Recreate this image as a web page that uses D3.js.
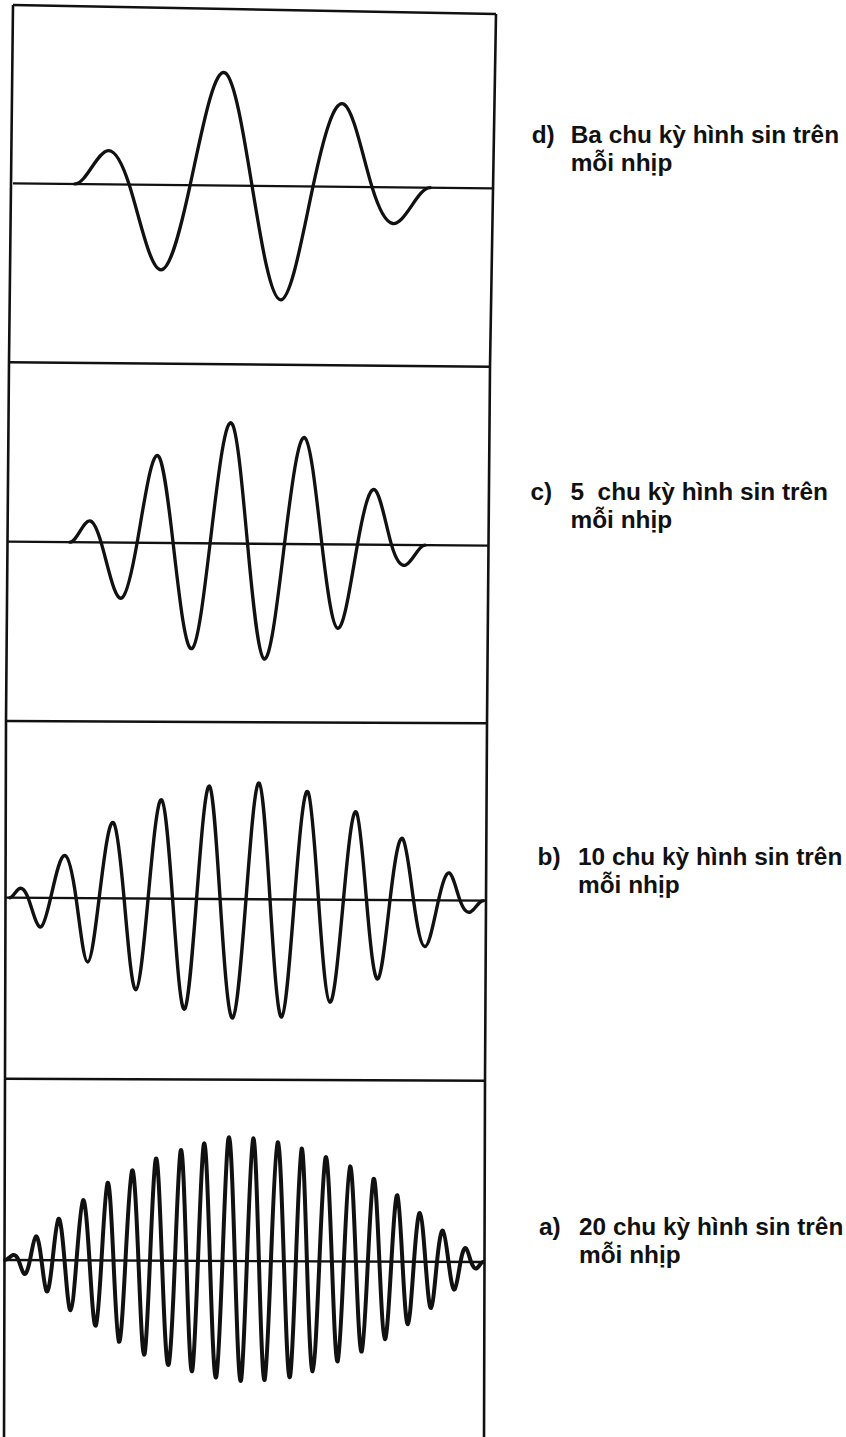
<!DOCTYPE html>
<html>
<head>
<meta charset="utf-8">
<script src="https://cdn.jsdelivr.net/npm/d3@7"></script>
<style>
  html, body { margin: 0; padding: 0; background: #fff; }
  svg { display: block; }
  .label { font-family: "Liberation Sans", Arial, sans-serif; font-weight: bold; font-size: 24.4px; fill: #111; white-space: pre; }
</style>
</head>
<body>
<svg id="chart" width="846" height="1437"></svg>
<script>
// Each waveform is given by its zero crossings and extrema:
// position along the span (percent) and relative amplitude (-1..1).

// d) three sine cycles per span
const posD = [12.9, 19.8, 24.2, 31.0, 36.9, 44.0, 49.8, 56.0, 62.5, 68.8, 74.8, 79.2, 86.9];
const ampD = [0, 0.27, 0, -0.68, 0, 0.90, 0, -0.91, 0, 0.66, 0, -0.29, 0];

// c) five sine cycles per span
const posC = [12.9, 17.2, 19.4, 23.9, 26.9, 31.3, 34.4, 38.6, 42.1, 46.6, 49.9,
              53.5, 57.6, 61.7, 65.4, 68.8, 72.8, 76.3, 79.9, 82.9, 86.9];
const ampC = [0, 0.17, 0, -0.44, 0, 0.69, 0, -0.84, 0, 0.95, 0,
              -0.92, 0, 0.85, 0, -0.67, 0, 0.44, 0, -0.16, 0];

// b) ten sine cycles per span
const posB = [0.8, 2.6, 4.6, 7.4, 9.3, 12.3, 14.6, 17.1, 19.4, 22.4, 24.6,
              27.2, 29.6, 32.3, 34.7, 37.4, 39.7, 42.3, 44.6, 47.4, 50.0,
              52.6, 55.0, 57.6, 60.1, 62.8, 65.1, 67.6, 70.3, 72.9, 75.1,
              77.6, 80.0, 82.6, 84.9, 87.3, 90.1, 92.3, 94.6, 96.8, 99.4];
const ampB = [0, 0.07, 0, -0.23, 0, 0.34, 0, -0.51, 0, 0.60, 0,
              -0.73, 0, 0.79, 0, -0.88, 0, 0.90, 0, -0.95, 0,
              0.93, 0, -0.94, 0, 0.86, 0, -0.82, 0, 0.70, 0,
              -0.63, 0, 0.49, 0, -0.37, 0, 0.22, 0, -0.09, 0];

// a) twenty sine cycles per span
const posA = [0.0,
              1.7, 2.8, 4.0, 5.2, 6.4, 7.6, 8.7, 9.9, 11.1, 12.4,
              13.7, 14.9, 16.2, 17.6, 19.0, 20.1, 21.3, 22.6, 23.8, 25.1,
              26.4, 27.8, 29.2, 30.2, 31.3, 32.7, 34.2, 35.4, 36.5, 37.8,
              39.1, 40.2, 41.3, 42.7, 44.1, 45.3, 46.4, 47.9, 49.3, 50.4,
              51.6, 52.9, 54.2, 55.4, 56.7, 58.1, 59.5, 60.6, 61.7, 62.9,
              64.2, 65.5, 66.7, 68.1, 69.4, 70.6, 71.8, 73.1, 74.4, 75.6,
              76.7, 78.0, 79.2, 80.5, 81.7, 82.8, 84.0, 85.2, 86.4, 87.6,
              88.8, 90.0, 91.2, 92.4, 93.7, 94.9, 96.0, 97.1, 98.3, 99.6];
const ampA = [0,
              0.04, 0, -0.11, 0, 0.19, 0, -0.25, 0, 0.33, 0,
              -0.40, 0, 0.48, 0, -0.52, 0, 0.62, 0, -0.65, 0,
              0.72, 0, -0.74, 0, 0.81, 0, -0.83, 0, 0.88, 0,
              -0.88, 0, 0.93, 0, -0.93, 0, 0.97, 0, -0.95, 0,
              0.98, 0, -0.95, 0, 0.95, 0, -0.92, 0, 0.90, 0,
              -0.88, 0, 0.83, 0, -0.80, 0, 0.76, 0, -0.72, 0,
              0.66, 0, -0.62, 0, 0.53, 0, -0.50, 0, 0.39, 0,
              -0.37, 0, 0.25, 0, -0.22, 0, 0.11, 0, -0.05, 0];

const tags  = ["d)", "c)", "b)", "a)"];
const texts = ["Ba chu kỳ hình sin trên", "5  chu kỳ hình sin trên",
               "10 chu kỳ hình sin trên", "20 chu kỳ hình sin trên"];
const secondLine = "mỗi nhịp";

// ---- layout (page geometry; the frame is slightly skewed) ----
const frameLeft  = [[13, 5], [9, 362.3], [6, 721], [5, 1078.7], [4, 1440]];
const frameRight = [[496, 14], [490, 366.7], [487, 723.3], [485, 1080.7], [484, 1440]];
const baselines = [
  [[13, 183.3], [493, 188.3]],
  [[8, 541.7], [488, 545.7]],
  [[6, 897.7], [486, 900.7]],
  [[5, 1260], [485, 1262]]
];
const labelPos = [
  { tx: 531.7, x: 570.7, y: 142.7 },
  { tx: 530.5, x: 570.5, y: 499.5 },
  { tx: 537.5, x: 578.0, y: 865.0 },
  { tx: 539.0, x: 579.0, y: 1235.0 }
];
const waveWidth = [3.3, 3.3, 3.4, 4.0];
const halfHeight = 125;

const series = [
  { pos: posD, amp: ampD },
  { pos: posC, amp: ampC },
  { pos: posB, amp: ampB },
  { pos: posA, amp: ampA }
];

// Cubic spline in x with flat (zero-slope) ends, so each wave train
// leaves and rejoins its baseline tangentially.
function curveClampedX(context) {
  let xs, ys;
  return {
    areaStart() {}, areaEnd() {},
    lineStart() { xs = []; ys = []; },
    point(x, y) { xs.push(+x); ys.push(+y); },
    lineEnd() {
      const n = xs.length;
      if (!n) return;
      context.moveTo(xs[0], ys[0]);
      if (n === 1) return;
      const h = [], s = [];
      for (let i = 0; i < n - 1; i++) {
        h[i] = xs[i + 1] - xs[i];
        s[i] = (ys[i + 1] - ys[i]) / h[i];
      }
      const d = new Array(n).fill(0);
      const m = n - 2;
      if (m > 0) {
        const a = [], b = [], c = [], r = [];
        for (let k = 0; k < m; k++) {
          const i = k + 1;
          a[k] = h[i];
          b[k] = 2 * (h[i - 1] + h[i]);
          c[k] = h[i - 1];
          r[k] = 3 * (h[i] * s[i - 1] + h[i - 1] * s[i]);
        }
        for (let k = 1; k < m; k++) {
          const w = a[k] / b[k - 1];
          b[k] -= w * c[k - 1];
          r[k] -= w * r[k - 1];
        }
        d[m] = r[m - 1] / b[m - 1];
        for (let k = m - 2; k >= 0; k--) d[k + 1] = (r[k] - c[k] * d[k + 2]) / b[k];
      }
      for (let i = 0; i < n - 1; i++) {
        const t = h[i] / 3;
        context.bezierCurveTo(xs[i] + t, ys[i] + t * d[i],
                              xs[i + 1] - t, ys[i + 1] - t * d[i + 1],
                              xs[i + 1], ys[i + 1]);
      }
    }
  };
}

const svg = d3.select("#chart");
const ink = "#111";

// frame: outer edges and panel dividers
const edge = d3.line();
svg.append("path").attr("d", edge(frameLeft))
  .attr("fill", "none").attr("stroke", ink).attr("stroke-width", 2.6);
svg.append("path").attr("d", edge(frameRight))
  .attr("fill", "none").attr("stroke", ink).attr("stroke-width", 2.6);
for (let i = 0; i < 4; i++) {
  svg.append("path").attr("d", edge([frameLeft[i], frameRight[i]]))
    .attr("fill", "none").attr("stroke", ink).attr("stroke-width", 2.4);
}

// waveforms, each drawn along its own (slightly tilted) baseline
series.forEach((s, i) => {
  const [p0, p1] = baselines[i];
  const dx = p1[0] - p0[0], dy = p1[1] - p0[1];
  const len = Math.hypot(dx, dy);
  const angle = Math.atan2(dy, dx) * 180 / Math.PI;

  const x = d3.scaleLinear().domain([0, 100]).range([0, len]);
  const y = d3.scaleLinear().domain([-1, 1]).range([halfHeight, -halfHeight]);

  const g = svg.append("g")
    .attr("transform", `translate(${p0[0]},${p0[1]}) rotate(${angle})`);

  g.append("line")
    .attr("x1", x(0)).attr("x2", x(100))
    .attr("y1", y(0)).attr("y2", y(0))
    .attr("stroke", ink).attr("stroke-width", 2.3);

  const pts = s.pos.map((p, k) => [p, s.amp[k]]);
  const line = d3.line()
    .x(d => x(d[0]))
    .y(d => y(d[1]))
    .curve(curveClampedX);

  g.append("path")
    .attr("d", line(pts))
    .attr("fill", "none")
    .attr("stroke", ink)
    .attr("stroke-width", waveWidth[i])
    .attr("stroke-linejoin", "round")
    .attr("stroke-linecap", "round");
});

// labels
labelPos.forEach((lp, i) => {
  svg.append("text").attr("class", "label").attr("x", lp.tx).attr("y", lp.y).text(tags[i]);
  svg.append("text").attr("class", "label").attr("x", lp.x).attr("y", lp.y).text(texts[i]);
  svg.append("text").attr("class", "label").attr("x", lp.x).attr("y", lp.y + 28).text(secondLine);
});
</script>
</body>
</html>
